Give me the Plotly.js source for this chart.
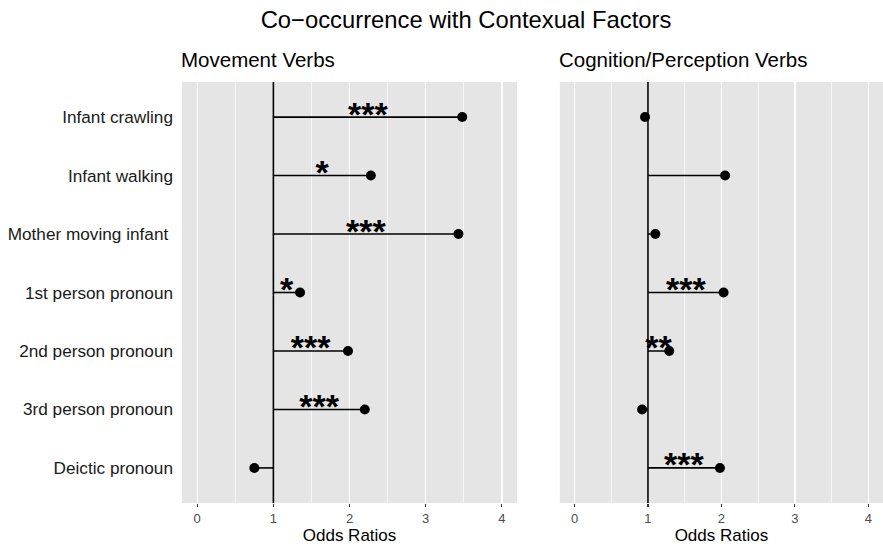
<!DOCTYPE html>
<html>
<head>
<meta charset="utf-8">
<script src="https://cdn.plot.ly/plotly-3.0.1.min.js"></script>
<style>html,body{margin:0;padding:0;background:#fff;}#chart{width:883px;height:546px;}</style>
</head>
<body>
<div id="chart"></div>
<script>
const categories = ["Infant crawling", "Infant walking", "Mother moving infant ", "1st person pronoun", "2nd person pronoun", "3rd person pronoun", "Deictic pronoun"];
const movementOR = [3.48, 2.28, 3.43, 1.35, 1.98, 2.20, 0.75];
const movementSig = ["***", "*", "***", "*", "***", "***", ""];
const cognitionOR = [0.96, 2.05, 1.10, 2.03, 1.29, 0.92, 1.98];
const cognitionSig = ["", "", "", "***", "**", "", "***"];
const panelTitles = ["Movement Verbs", "Cognition/Perception Verbs"];
const xTickVals = [0, 1, 2, 3, 4];
const baseline = 1;

function panelTraces(vals, sig, xa, ya) {
  const sx = [], sy = [];
  vals.forEach((v, i) => { sx.push(baseline, v, null); sy.push(categories[i], categories[i], null); });
  const tx = [], ty = [], tt = [];
  vals.forEach((v, i) => { if (sig[i]) { tx.push((baseline + v) / 2); ty.push(categories[i]); tt.push(sig[i]); } });
  return [
    {type: 'scatter', mode: 'lines', x: sx, y: sy, xaxis: xa, yaxis: ya, line: {color: '#000', width: 1.6}, hoverinfo: 'skip', showlegend: false},
    {type: 'scatter', mode: 'markers', x: vals, y: categories, xaxis: xa, yaxis: ya, marker: {color: '#000', size: 10}, showlegend: false},
    {type: 'scatter', mode: 'text', x: tx, y: ty, text: tt, xaxis: xa, yaxis: ya, textposition: 'middle center',
     textfont: {family: 'Liberation Sans, Arial, sans-serif', size: 34, color: '#000', weight: 'bold'}, hoverinfo: 'skip', showlegend: false}
  ];
}

const data = [].concat(
  panelTraces(movementOR, movementSig, 'x', 'y'),
  panelTraces(cognitionOR, cognitionSig, 'x2', 'y2')
);

const font = {family: 'Liberation Sans, Arial, sans-serif', color: '#000'};
function xaxisDef(domain, anchor) {
  return {
    domain: domain, anchor: anchor, range: [-0.2, 4.2],
    tickvals: xTickVals, ticktext: xTickVals.map(String),
    ticks: 'outside', ticklen: 3, tickwidth: 1.1, tickcolor: '#333',
    tickfont: {family: font.family, size: 13, color: '#4d4d4d'},
    showgrid: true, gridcolor: '#fff', gridwidth: 1.4,
    minor: {dtick: 0.5, tick0: 0, showgrid: true, gridcolor: '#fff', gridwidth: 0.6, ticks: ''},
    zeroline: false, showline: false, fixedrange: true,
    title: {text: 'Odds Ratios', font: {family: font.family, size: 17, color: '#000'}, standoff: 4}
  };
}
function yaxisDef(anchor, showLabels) {
  return {
    anchor: anchor, type: 'category', categoryorder: 'array', categoryarray: categories,
    range: [6.6, -0.6], showgrid: false, zeroline: false, showline: false,
    showticklabels: showLabels, ticks: '', ticklabelstandoff: 8,
    tickfont: {family: font.family, size: 17.2, color: '#1a1a1a'}, fixedrange: true
  };
}

const d1 = [0, 0.478], d2 = [0.539, 1];
const layout = {
  width: 883, height: 546,
  margin: {l: 182, r: 0, t: 82, b: 43},
  paper_bgcolor: '#fff', plot_bgcolor: '#E5E5E5',
  font: font,
  title: {text: 'Co\u2212occurrence with Contexual Factors', font: {family: font.family, size: 23.8, color: '#000'},
          x: 466 / 883, xref: 'container', xanchor: 'center', y: 1 - 20 / 546, yref: 'container', yanchor: 'middle'},
  xaxis: xaxisDef(d1, 'y'),
  yaxis: yaxisDef('x', true),
  xaxis2: xaxisDef(d2, 'y2'),
  yaxis2: yaxisDef('x2', false),
  shapes: [
    {type: 'line', xref: 'x', yref: 'y domain', x0: baseline, x1: baseline, y0: 0, y1: 1, line: {color: '#000', width: 1.6}, layer: 'above'},
    {type: 'line', xref: 'x2', yref: 'y2 domain', x0: baseline, x1: baseline, y0: 0, y1: 1, line: {color: '#000', width: 1.6}, layer: 'above'}
  ],
  annotations: panelTitles.map((t, i) => ({
    text: t, xref: 'paper', yref: 'paper', x: [d1, d2][i][0], y: 1, yshift: 9, xshift: -3,
    xanchor: 'left', yanchor: 'bottom', showarrow: false,
    font: {family: font.family, size: 20.5, color: '#000'}
  }))
};

Plotly.newPlot('chart', data, layout, {displayModeBar: false, staticPlot: true});
</script>
</body>
</html>
